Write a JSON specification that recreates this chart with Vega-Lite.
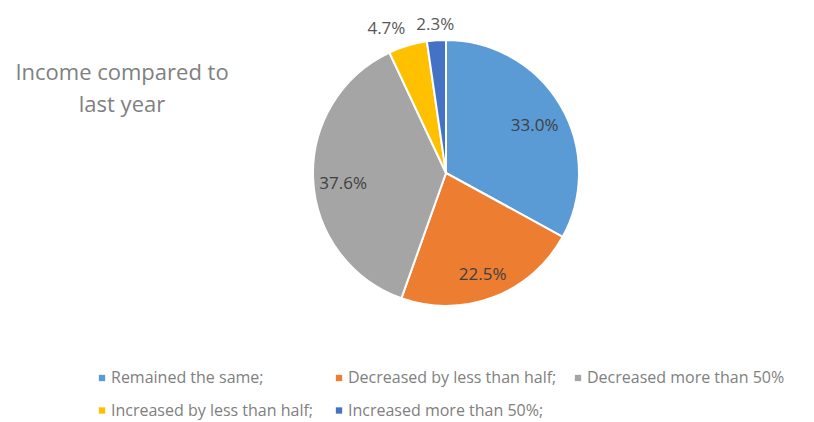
{
  "$schema": "https://vega.github.io/schema/vega-lite/v6.json",
  "width": 266,
  "height": 266,
  "autosize": {"type": "none"},
  "padding": {"left": 313, "top": 40, "right": 235, "bottom": 116},
  "background": "white",
  "config": {"view": {"stroke": null}, "font": "Open Sans"},
  "title": {
    "text": ["Income compared to", "last year"],
    "orient": "top",
    "anchor": "start",
    "frame": "group",
    "align": "center",
    "baseline": "top",
    "dx": -191,
    "offset": 0,
    "dy": 107,
    "font": "Open Sans",
    "fontSize": 22,
    "fontWeight": "normal",
    "lineHeight": 32,
    "color": "#808080"
  },
  "data": {
    "values": [
      {"category": "Remained the same;", "value": 33.0, "label": "33.0%", "rank": 1},
      {"category": "Decreased by less than half;", "value": 22.5, "label": "22.5%", "rank": 2},
      {"category": "Decreased more than 50%", "value": 37.6, "label": "37.6%", "rank": 3},
      {"category": "Increased by less than  half;", "value": 4.7, "label": "4.7%", "rank": 4},
      {"category": "Increased more than 50%;", "value": 2.3, "label": "2.3%", "rank": 5}
    ]
  },
  "encoding": {
    "theta": {"field": "value", "type": "quantitative", "stack": true},
    "order": {"field": "rank", "type": "quantitative"}
  },
  "layer": [
    {
      "mark": {"type": "arc", "stroke": "white", "strokeWidth": 2},
      "encoding": {
        "color": {
          "field": "category",
          "type": "nominal",
          "scale": {
            "domain": ["Remained the same;", "Decreased by less than half;", "Decreased more than 50%", "Increased by less than  half;", "Increased more than 50%;"],
            "range": ["#5B9BD5", "#ED7D31", "#A5A5A5", "#FFC000", "#4472C4"]
          },
          "legend": {
            "title": null,
            "orient": "none",
            "legendX": -219,
            "legendY": 330,
            "direction": "horizontal",
            "columns": 3,
            "columnPadding": 13,
            "rowPadding": 16.5,
            "symbolType": "square",
            "symbolSize": 40,
            "symbolStrokeWidth": 0,
            "symbolOffset": 0,
            "labelOffset": 1,
            "labelFont": "Open Sans",
            "labelFontSize": 16,
            "labelColor": "#808080",
            "labelLimit": 400
          }
        }
      }
    },
    {
      "mark": {"type": "text", "radius": 103, "dy": 6, "font": "Open Sans", "fontSize": 17, "color": "#404040"},
      "encoding": {
        "text": {"condition": {"test": "datum.value >= 10", "field": "label"}, "value": ""}
      }
    },
    {
      "mark": {"type": "text", "radius": 156, "thetaOffset": -0.1, "font": "Open Sans", "fontSize": 17, "color": "#595959"},
      "encoding": {
        "text": {"condition": {"test": "datum.value >= 3 && datum.value < 10", "field": "label"}, "value": ""}
      }
    },
    {
      "mark": {"type": "text", "radius": 148, "font": "Open Sans", "fontSize": 17, "color": "#595959"},
      "encoding": {
        "text": {"condition": {"test": "datum.value < 3", "field": "label"}, "value": ""}
      }
    }
  ]
}
